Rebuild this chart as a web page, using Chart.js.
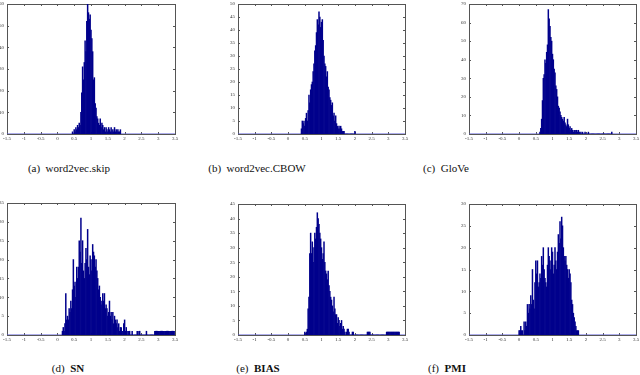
<!DOCTYPE html>
<html>
<head>
<meta charset="utf-8">
<script src="https://cdn.jsdelivr.net/npm/chart.js@4.4.0/dist/chart.umd.min.js"></script>
<style>
  body { margin: 0; background: #fff; width: 640px; height: 375px; overflow: hidden; position: relative; }
  canvas { position: absolute; }
  .cap { position: absolute; width: 160px; text-align: center; font-family: "Liberation Serif", "DejaVu Serif", serif; font-size: 11px; line-height: 14px; color: #111; }
  .cap b { font-weight: bold; }
</style>
</head>
<body>
<canvas id="c0"></canvas>
<canvas id="c1"></canvas>
<canvas id="c2"></canvas>
<canvas id="c3"></canvas>
<canvas id="c4"></canvas>
<canvas id="c5"></canvas>
<div class="cap" style="left:-11px; top:161px;">(a)&nbsp; word2vec.skip</div>
<div class="cap" style="left:177px; top:161px;">(b)&nbsp; word2vec.CBOW</div>
<div class="cap" style="left:366px; top:161px;">(c)&nbsp; GloVe</div>
<div class="cap" style="left:-12px; top:361px;">(d)&nbsp; <b>SN</b></div>
<div class="cap" style="left:178px; top:361px;">(e)&nbsp; <b>BIAS</b></div>
<div class="cap" style="left:367px; top:361px;">(f)&nbsp; <b>PMI</b></div>
<script>
// histogram counts, bins of width 0.025 starting at the given value
const binWidth = 0.025;
const xTicks = [-1.5, -1, -0.5, 0, 0.5, 1, 1.5, 2, 2.5, 3, 3.5];

const skipStart = 0.45;
const skipCounts = [1,0,2,1,3,2,4,3,5,4, 10,19,31,25,33,43,38,52,60,56, 53,55,48,44,38,25,26,14,12,8,
  7,5,4,7,3,5,4,2,3,1, 3,2,1,3,2,1,3,1,2,1, 3,1,2,1,2,1,1,2];

const cbowStart = 0.4;
const cbowCounts = [2,5,4,5,3,6,8,5,9,15, 12,17,19,20,24,27,32,34,39,44, 42,47,45,41,43,44,36,30,27,26,
  22,24,18,17,14,13,11,12,7,8, 5,7,4,3,2,3,2,3,2,1, 1,1,0,0,0,0,0,0,0,0, 0,0,0,0,1];

const gloveStart = 0.625;
const gloveCounts = [1,3,8,18,30,32,40,38,44,48, 67,62,58,52,50,43,40,35,33,26, 24,20,15,14,12,10,9,8,7,9,
  6,5,4,8,5,3,4,2,3,2, 1,2,1,2,2,1,2,1,0,1, 0,1,0,0,1,0,0,0,1,0, 0,0,0,0,0,0,0,0,0,0,
  0,0,0,0,0,0,0,0,0,0, 0,0,0,0,0,0,1];

const snStart = 0.15;
const snCounts = [1,2,1,3,11,4,5,4,7,6, 9,7,12,20,13,14,10,18,15,18, 25,22,31,19,25,17,15,19,23,20,
  28,18,16,21,20,17,24,22,21,18, 20,17,15,12,13,10,8,9,11,9, 11,7,8,7,5,6,9,5,6,4,
  6,3,5,4,3,4,2,3,1,2, 2,1,1,3,4,1,2,1,0,1, 1,0,0,1,0,0,0,0,0,1, 1,0,1,0,0,0,0,0,0,0,
  1,0,0,0,0,0,0,0,0,0, 1,1,1,1,1,1,1,1,1,1, 1,1,1,1,1,1,1,1,1,1, 1,1,1,1];

const biasStart = 0.5;
const biasCounts = [1,0,1,2,9,13,28,35,28,32, 25,30,35,33,37,42,40,38,35,33, 30,26,28,32,25,22,21,19,22,17,
  15,13,12,10,8,13,9,7,7,4, 6,5,3,4,5,2,3,2,1,0, 1,2,2,1,0,0,0,1,1,0, 0,0,0,0,0,0,0,0,0,0,
  0,0,0,0,0,1,1,1,1,0, 0,0,0,0,0,0,0,0,0,0, 0,0,0,0,0,0,0,0,1,1, 1,1,1,1,1,1,1,1,1,1, 1,1,1,1];

const pmiStart = 0;
const pmiCounts = [1,1,2,1,1,0,3,1,3,2, 7,5,7,6,9,7,15,8,6,12, 17,14,17,11,12,14,13,18,16,20,
  15,13,12,11,16,20,18,17,15,20, 19,14,16,20,17,15,19,23,21,26, 22,27,25,20,18,17,18,16,15,13,
  15,14,12,8,7,5,4,3,2,1, 1,1];

const yMaxes = [60, 50, 70, 35, 45, 30];
const ySteps = [10, 5, 10, 5, 5, 5];

// plot boxes in page pixels: left, top, right, bottom
const boxes = [
  [7, 3, 175, 134], [238, 3, 405, 134], [469, 3, 636, 134],
  [7, 202, 175, 335], [238, 203, 405, 335], [469, 203, 636, 335]
];

const panels = [
  [skipStart, skipCounts], [cbowStart, cbowCounts], [gloveStart, gloveCounts],
  [snStart, snCounts], [biasStart, biasCounts], [pmiStart, pmiCounts]
];

const AXW = 16, PADT = 5, PADR = 6, AXH = 10;

// box around the plot and small inward tick marks, matlab style
const frame = {
  id: 'frame',
  beforeDatasetsDraw(chart) {
    const ctx = chart.ctx, a = chart.chartArea;
    const xs = chart.scales.x, ys = chart.scales.y;
    ctx.save();
    ctx.strokeStyle = '#555';
    ctx.lineWidth = 1;
    ctx.strokeRect(Math.round(a.left) + 0.5, Math.round(a.top) + 0.5,
      Math.round(a.right - a.left), Math.round(a.bottom - a.top));
    ctx.beginPath();
    xs.ticks.forEach(t => {
      const px = Math.round(xs.getPixelForValue(t.value)) + 0.5;
      ctx.moveTo(px, a.bottom); ctx.lineTo(px, a.bottom - 2);
      ctx.moveTo(px, a.top); ctx.lineTo(px, a.top + 2);
    });
    ys.ticks.forEach(t => {
      const py = Math.round(ys.getPixelForValue(t.value)) + 0.5;
      ctx.moveTo(a.left, py); ctx.lineTo(a.left + 2, py);
      ctx.moveTo(a.right, py); ctx.lineTo(a.right - 2, py);
    });
    ctx.stroke();
    ctx.restore();
  }
};

panels.forEach((p, i) => {
  const [start, counts] = p;
  const b = boxes[i];
  const cv = document.getElementById('c' + i);
  const w = b[2] - b[0] + AXW + PADR;
  const h = b[3] - b[1] + PADT + AXH;
  cv.width = w; cv.height = h;
  cv.style.left = (b[0] - AXW) + 'px';
  cv.style.top = (b[1] - PADT) + 'px';

  const bars = counts.map((c, k) => ({ x: start + k * binWidth, y: c }));

  new Chart(cv, {
    type: 'bar',
    data: {
      datasets: [
        {
          type: 'bar',
          data: bars,
          backgroundColor: '#00008c',
          borderWidth: 0,
          barPercentage: 1,
          categoryPercentage: 1,
          order: 0
        },
        {
          type: 'line',
          data: [{ x: xTicks[0], y: 0 }, { x: xTicks[xTicks.length - 1], y: 0 }],
          borderColor: '#5c5cd6',
          borderWidth: 1,
          pointRadius: 0,
          order: 1
        }
      ]
    },
    options: {
      responsive: false,
      animation: false,
      devicePixelRatio: 1,
      layout: { padding: { top: PADT, right: PADR, left: 0, bottom: 0 } },
      plugins: { legend: { display: false }, tooltip: { enabled: false } },
      scales: {
        x: {
          type: 'linear',
          min: xTicks[0],
          max: xTicks[xTicks.length - 1],
          offset: false,
          grid: { display: false, drawTicks: false, tickLength: 0 },
          border: { display: false },
          afterBuildTicks: s => { s.ticks = xTicks.map(v => ({ value: v })); },
          afterFit: s => { s.height = AXH; },
          ticks: {
            padding: 2,
            maxRotation: 0,
            autoSkip: false,
            font: { family: 'Liberation Serif', size: 5 },
            color: '#333',
            callback: v => String(v)
          }
        },
        y: {
          min: 0,
          max: yMaxes[i],
          grid: { display: false, drawTicks: false, tickLength: 0 },
          border: { display: false },
          afterFit: s => { s.width = AXW; },
          ticks: {
            stepSize: ySteps[i],
            padding: 3,
            font: { family: 'Liberation Serif', size: 5 },
            color: '#333'
          }
        }
      }
    },
    plugins: [frame]
  });
});
</script>
</body>
</html>
